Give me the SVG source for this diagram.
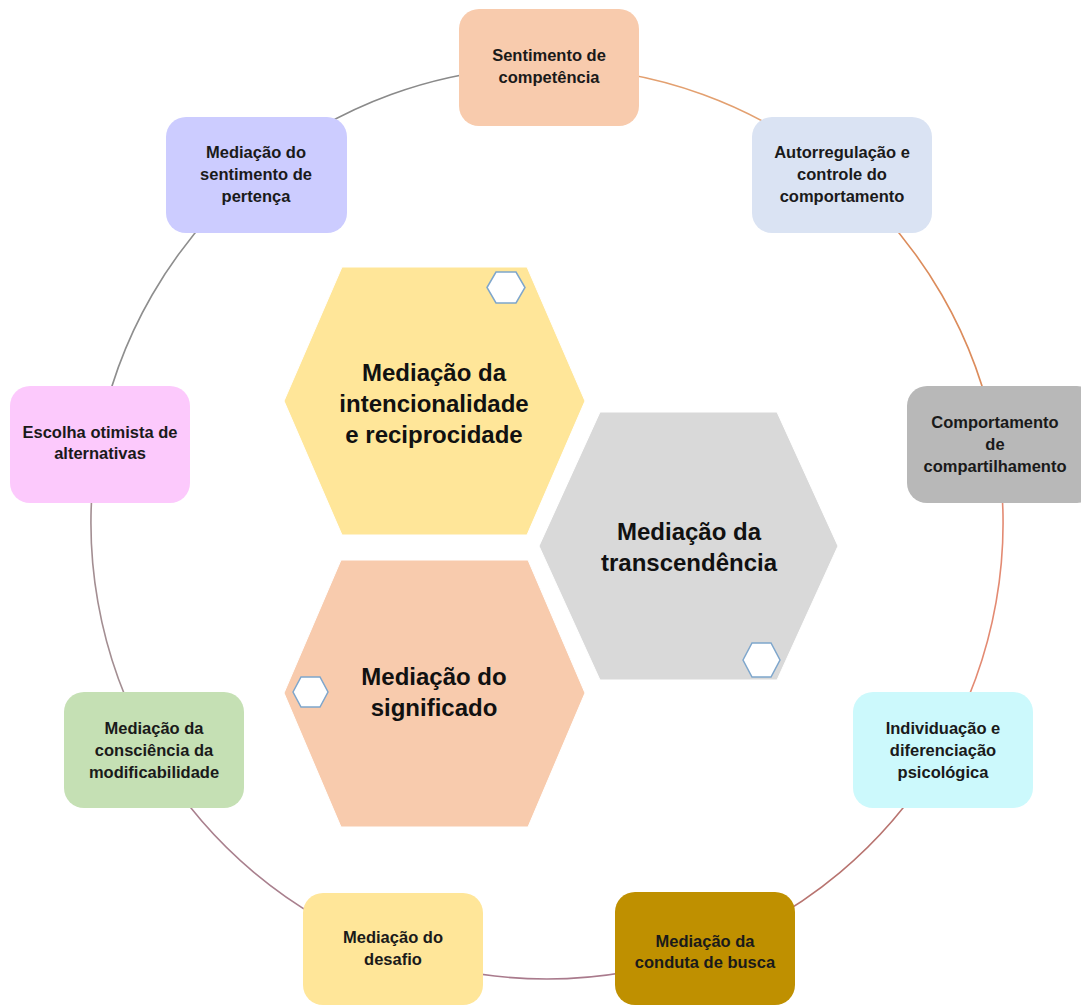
<svg xmlns="http://www.w3.org/2000/svg" width="1081" height="1007" viewBox="0 0 1081 1007">
<style>
.box{stroke:none}
.bt{font-family:"Liberation Sans",Arial,sans-serif;font-weight:bold;font-size:16.5px;fill:#1a1a1a;text-anchor:middle}
.ht{font-family:"Liberation Sans",Arial,sans-serif;font-weight:bold;font-size:24px;fill:#111;text-anchor:middle}
.arc{fill:none;stroke-width:1.6}
.hex{stroke:#ffffff;stroke-width:1}
.mini{fill:#ffffff;stroke:#7ea6cc;stroke-width:1.5}
</style>
<rect width="1081" height="1007" fill="#ffffff"/>
<g id="connectors">
<path class="arc" stroke="#e3a070" d="M 547 67 A 456 456 0 0 1 840.1 173.7"/>
<path class="arc" stroke="#dc8c5c" d="M 840.1 173.7 A 456 456 0 0 1 996.1 443.8"/>
<path class="arc" stroke="#e38a72" d="M 996.1 443.8 A 456 456 0 0 1 941.9 751"/>
<path class="arc" stroke="#b87470" d="M 941.9 751 A 456 456 0 0 1 703 951.5"/>
<path class="arc" stroke="#a97a8c" d="M 703 951.5 A 456 456 0 0 1 391 951.5"/>
<path class="arc" stroke="#a9808e" d="M 391 951.5 A 456 456 0 0 1 152.1 751"/>
<path class="arc" stroke="#a38e92" d="M 152.1 751 A 456 456 0 0 1 97.9 443.8"/>
<path class="arc" stroke="#8e8e8e" d="M 97.9 443.8 A 456 456 0 0 1 253.9 173.7"/>
<path class="arc" stroke="#8a8a8a" d="M 253.9 173.7 A 456 456 0 0 1 547 67"/>
</g>
<g id="hex-intencionalidade">
<polygon class="hex" fill="#ffe699" points="342,267 527,267 585,401 527,535 342,535 284,401"/>
<polygon class="mini" points="487,287.5 496,272 516,272 525,287.5 516,303 496,303"/>
<text class="ht" x="434" y="381">Mediação da</text>
<text class="ht" x="434" y="412">intencionalidade</text>
<text class="ht" x="434" y="443">e reciprocidade</text>
</g>
<g id="hex-transcendencia">
<polygon class="hex" fill="#d9d9d9" points="600,412 777,412 838,546 777,680 600,680 539,546"/>
<polygon class="mini" points="743,660 752,643 771,643 780,660 771,677 752,677"/>
<text class="ht" x="689" y="540">Mediação da</text>
<text class="ht" x="689" y="571">transcendência</text>
</g>
<g id="hex-significado">
<polygon class="hex" fill="#f8cbad" points="341,560 528,560 585,693 528,827 341,827 284,693"/>
<polygon class="mini" points="293,692 301,677 320,677 328,692 320,707 301,707"/>
<text class="ht" x="434" y="685">Mediação do</text>
<text class="ht" x="434" y="716">significado</text>
</g>
<g id="n-competencia">
<rect class="box" x="459" y="9" width="180" height="117" rx="20" fill="#f8cbad"/>
<text class="bt" x="549" y="61">Sentimento de</text>
<text class="bt" x="549" y="83">competência</text>
</g>
<g id="n-autorregulacao">
<rect class="box" x="752" y="117" width="180" height="116" rx="20" fill="#dae3f3"/>
<text class="bt" x="842" y="158">Autorregulação e</text>
<text class="bt" x="842" y="180">controle do</text>
<text class="bt" x="842" y="202">comportamento</text>
</g>
<g id="n-compartilhamento">
<rect class="box" x="907" y="386" width="190" height="117" rx="20" fill="#b8b8b8"/>
<text class="bt" x="995" y="428">Comportamento</text>
<text class="bt" x="995" y="450">de</text>
<text class="bt" x="995" y="472">compartilhamento</text>
</g>
<g id="n-individuacao">
<rect class="box" x="853" y="692" width="180" height="116" rx="20" fill="#ccf9fc"/>
<text class="bt" x="943" y="734">Individuação e</text>
<text class="bt" x="943" y="756">diferenciação</text>
<text class="bt" x="943" y="778">psicológica</text>
</g>
<g id="n-busca">
<rect class="box" x="615" y="892" width="180" height="113" rx="20" fill="#bf9000"/>
<text class="bt" x="705" y="947">Mediação da</text>
<text class="bt" x="705" y="968">conduta de busca</text>
</g>
<g id="n-desafio">
<rect class="box" x="303" y="893" width="180" height="112" rx="20" fill="#ffe699"/>
<text class="bt" x="393" y="943">Mediação do</text>
<text class="bt" x="393" y="965">desafio</text>
</g>
<g id="n-modificabilidade">
<rect class="box" x="64" y="692" width="180" height="116" rx="20" fill="#c5e0b4"/>
<text class="bt" x="154" y="734">Mediação da</text>
<text class="bt" x="154" y="756">consciência da</text>
<text class="bt" x="154" y="778">modificabilidade</text>
</g>
<g id="n-escolha">
<rect class="box" x="10" y="386" width="180" height="117" rx="20" fill="#fcc9fc"/>
<text class="bt" x="100" y="438">Escolha otimista de</text>
<text class="bt" x="100" y="459">alternativas</text>
</g>
<g id="n-pertenca">
<rect class="box" x="166" y="117" width="181" height="116" rx="20" fill="#ccccff"/>
<text class="bt" x="256" y="158">Mediação do</text>
<text class="bt" x="256" y="180">sentimento de</text>
<text class="bt" x="256" y="202">pertença</text>
</g>
</svg>
